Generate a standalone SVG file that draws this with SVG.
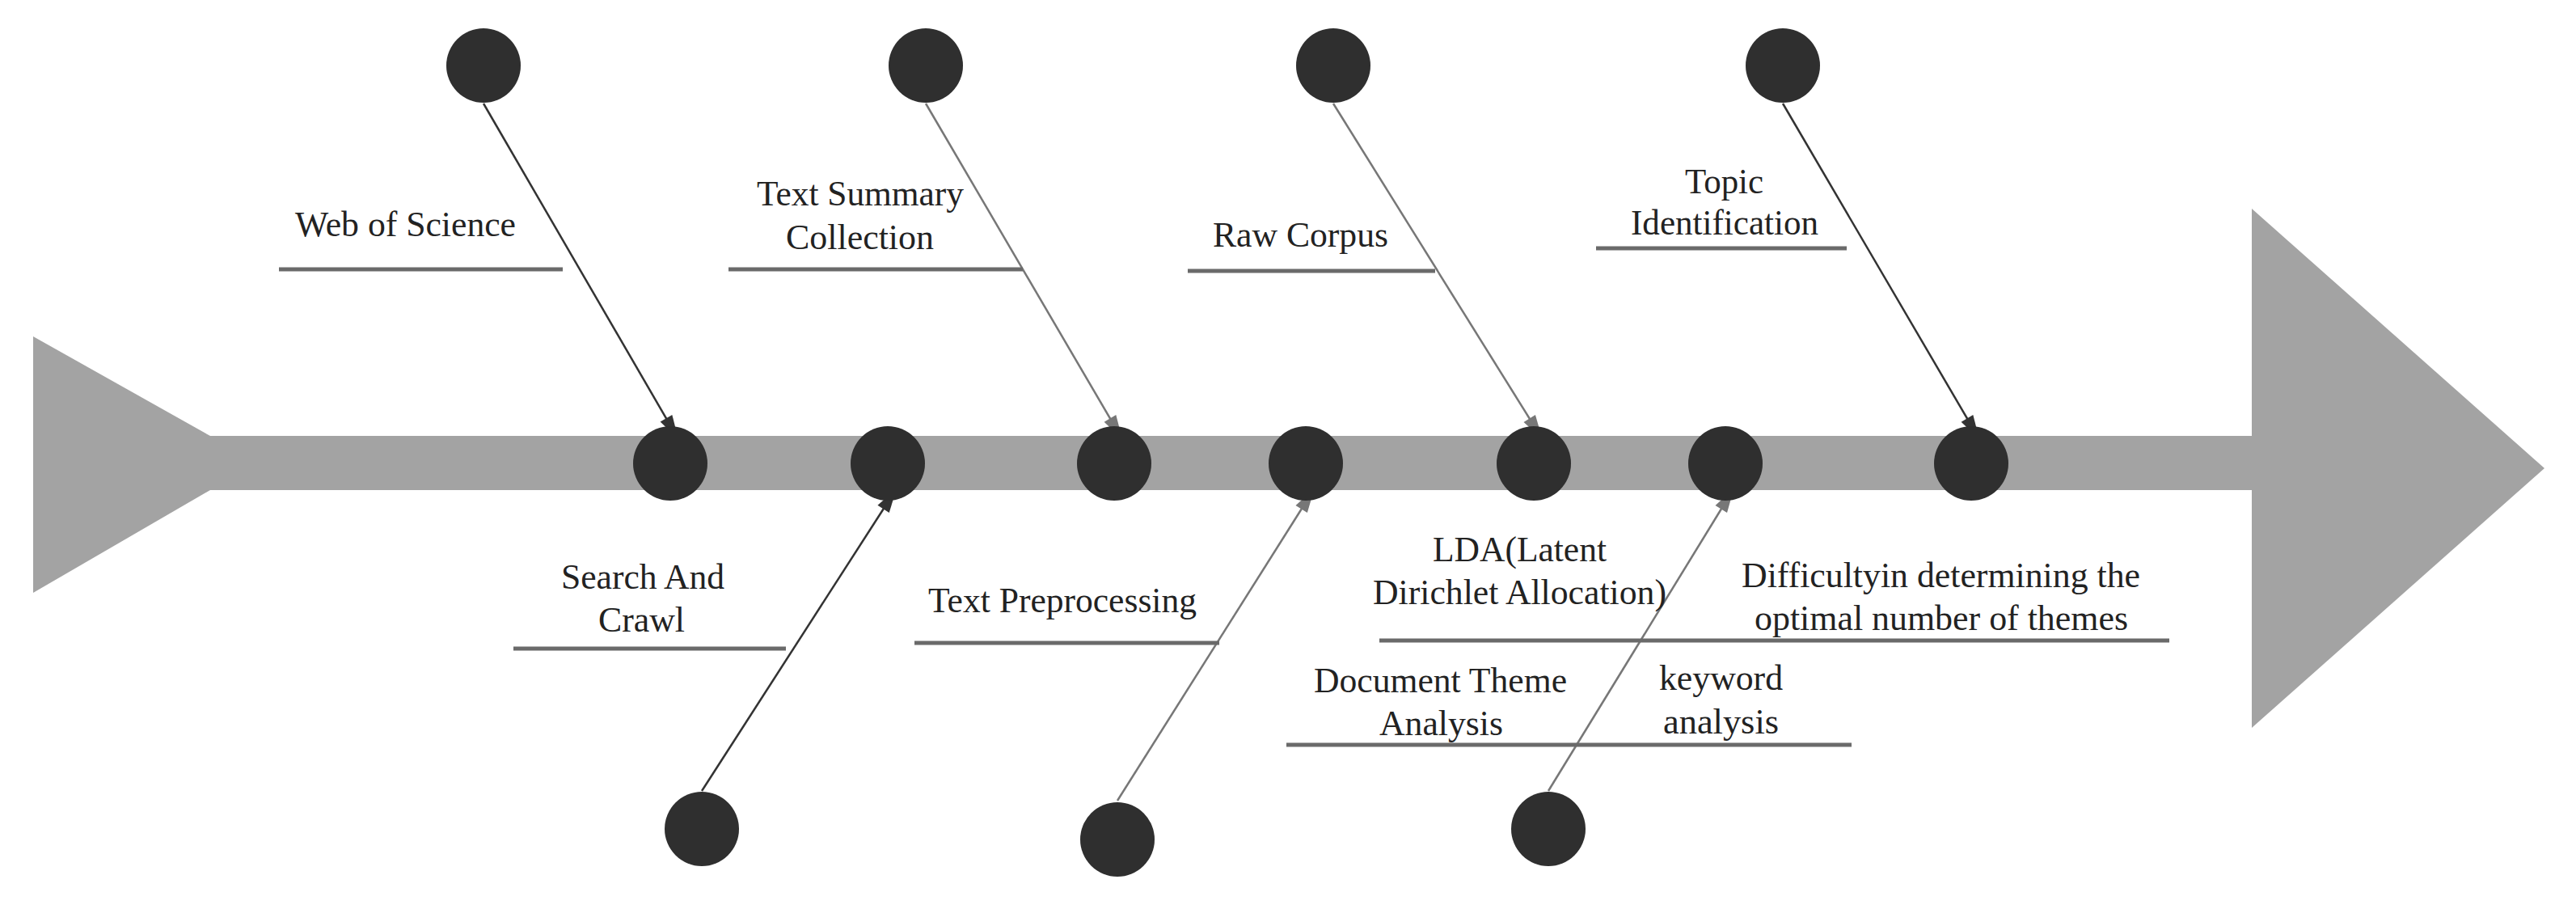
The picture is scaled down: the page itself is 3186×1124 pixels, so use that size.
<svg xmlns="http://www.w3.org/2000/svg" width="3186" height="1124" viewBox="0 0 3186 1124">
<style>
.n{fill:#2f2f2f}
.t{font-family:"Liberation Serif",serif;font-size:44px;fill:#222}
.l{stroke:#6a6a6a;stroke-width:5}
.a{stroke:#333;stroke-width:2.5;fill:none;marker-end:url(#ad)}
.g{stroke:#777;stroke-width:2.5;fill:none;marker-end:url(#ag)}
</style>
<defs>
<marker id="ad" viewBox="0 0 10 10" refX="10" refY="5" markerWidth="10" markerHeight="10" markerUnits="userSpaceOnUse" orient="auto" style="overflow:visible"><path d="M0,0 L10,5 L0,10 z" fill="#333" transform="translate(0,-3.5) scale(3,1.7)"/></marker>
<marker id="ag" viewBox="0 0 10 10" refX="10" refY="5" markerWidth="10" markerHeight="10" markerUnits="userSpaceOnUse" orient="auto" style="overflow:visible"><path d="M0,0 L10,5 L0,10 z" fill="#777" transform="translate(0,-3.5) scale(3,1.7)"/></marker>
</defs>
<rect width="3186" height="1124" fill="#fff"/>
<g id="spine" fill="#a3a3a3">
<polygon points="41,416 260,539 260,606 41,733"/>
<rect x="250" y="539" width="2540" height="67"/>
<polygon points="2785,258 3147,579 2785,900"/>
</g>
<g id="connectors">
<line class="a" x1="598" y1="128" x2="829" y2="526"/>
<line class="g" x1="1145" y1="128" x2="1378" y2="526"/>
<line class="g" x1="1649" y1="128" x2="1897" y2="526"/>
<line class="a" x1="2205" y1="128" x2="2438" y2="526"/>
<line class="a" x1="868" y1="978" x2="1098" y2="621"/>
<line class="g" x1="1382" y1="990" x2="1615" y2="621"/>
<line class="g" x1="1915" y1="978" x2="2134" y2="621"/>
</g>
<g id="spine-nodes">
<circle class="n" cx="829" cy="573" r="46"/>
<circle class="n" cx="1098" cy="573" r="46"/>
<circle class="n" cx="1378" cy="573" r="46"/>
<circle class="n" cx="1615" cy="573" r="46"/>
<circle class="n" cx="1897" cy="573" r="46"/>
<circle class="n" cx="2134" cy="573" r="46"/>
<circle class="n" cx="2438" cy="573" r="46"/>
</g>
<g id="top-nodes">
<circle class="n" cx="598" cy="81" r="46"/>
<circle class="n" cx="1145" cy="81" r="46"/>
<circle class="n" cx="1649" cy="81" r="46"/>
<circle class="n" cx="2205" cy="81" r="46"/>
</g>
<g id="bottom-nodes">
<circle class="n" cx="868" cy="1025" r="46"/>
<circle class="n" cx="1382" cy="1038" r="46"/>
<circle class="n" cx="1915" cy="1025" r="46"/>
</g>
<g id="web-of-science"><line class="l" x1="345" y1="333" x2="696" y2="333"/><text class="t" x="365" y="292" textLength="273" lengthAdjust="spacingAndGlyphs">Web of Science</text></g>
<g id="text-summary"><line class="l" x1="901" y1="333" x2="1265" y2="333"/><text class="t" x="936" y="254" textLength="256" lengthAdjust="spacingAndGlyphs">Text Summary</text><text class="t" x="972" y="308" textLength="183" lengthAdjust="spacingAndGlyphs">Collection</text></g>
<g id="raw-corpus"><line class="l" x1="1469" y1="335" x2="1775" y2="335"/><text class="t" x="1500" y="305" textLength="217" lengthAdjust="spacingAndGlyphs">Raw Corpus</text></g>
<g id="topic"><line class="l" x1="1974" y1="307" x2="2284" y2="307"/><text class="t" x="2084" y="239" textLength="97" lengthAdjust="spacingAndGlyphs">Topic</text><text class="t" x="2017" y="290" textLength="232" lengthAdjust="spacingAndGlyphs">Identification</text></g>
<g id="search"><line class="l" x1="635" y1="802" x2="972" y2="802"/><text class="t" x="694" y="728" textLength="202" lengthAdjust="spacingAndGlyphs">Search And</text><text class="t" x="740" y="781" textLength="107" lengthAdjust="spacingAndGlyphs">Crawl</text></g>
<g id="preprocessing"><line class="l" x1="1131" y1="795" x2="1508" y2="795"/><text class="t" x="1148" y="757" textLength="332" lengthAdjust="spacingAndGlyphs">Text Preprocessing</text></g>
<g id="lda"><line class="l" x1="1706" y1="792" x2="2683" y2="792"/><text class="t" x="1772" y="694" textLength="215" lengthAdjust="spacingAndGlyphs">LDA(Latent</text><text class="t" x="1698" y="747" textLength="363" lengthAdjust="spacingAndGlyphs">Dirichlet Allocation)</text></g>
<g id="difficulty"><text class="t" x="2154" y="726" textLength="493" lengthAdjust="spacingAndGlyphs">Difficultyin determining the</text><text class="t" x="2170" y="779" textLength="462" lengthAdjust="spacingAndGlyphs">optimal number of themes</text></g>
<g id="document"><line class="l" x1="1591" y1="921" x2="2290" y2="921"/><text class="t" x="1625" y="856" textLength="313" lengthAdjust="spacingAndGlyphs">Document Theme</text><text class="t" x="1706" y="909" textLength="153" lengthAdjust="spacingAndGlyphs">Analysis</text></g>
<g id="keyword"><text class="t" x="2052" y="853" textLength="153" lengthAdjust="spacingAndGlyphs">keyword</text><text class="t" x="2057" y="907" textLength="143" lengthAdjust="spacingAndGlyphs">analysis</text></g>
</svg>
